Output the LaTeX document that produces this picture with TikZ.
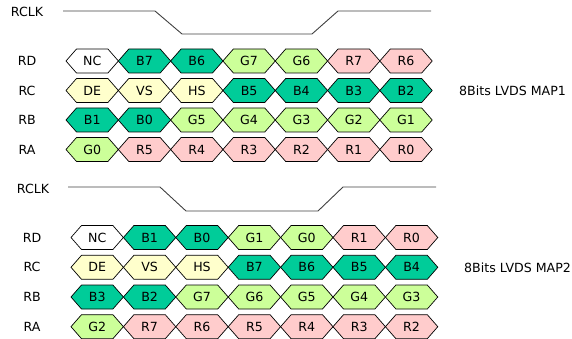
\documentclass[tikz,border=0pt]{standalone}
\usepackage{fontspec}
\setmainfont{DejaVu Sans}
\definecolor{cB}{HTML}{00CC99}
\definecolor{cG}{HTML}{CCFF99}
\definecolor{cR}{HTML}{FFCCCC}
\definecolor{cY}{HTML}{FFFFCC}
\definecolor{cW}{HTML}{FFFFFF}
\definecolor{wave}{HTML}{404040}
\newcommand\hexcell[5]{%
  \filldraw[cellline, fill=#3] (#1-26.2,#2) -- ++(10.5,-12) -- ++(31.4,0) -- ++(10.5,12) -- ++(-10.5,12) -- ++(-31.4,0) -- cycle;
  \node[celltext] (#5) at (#1,#2) {#4};}
\begin{document}
\begin{tikzpicture}[x=1pt,y=-1pt,
  cellline/.style={draw=black, line width=0.7pt, line join=miter},
  celltext/.style={font=\fontsize{12.6}{14}\selectfont, inner sep=0pt},
  lbl/.style={font=\fontsize{12.6}{14}\selectfont, inner sep=0pt},
  wavestyle/.style={draw=wave, line width=0.9pt}]
\useasboundingbox (0,0) rectangle (572,339);
% ---------- MAP 1 ----------
\node[lbl] (clk1) at (27,12) {RCLK};
\coordinate (w1a) at (63,11);
\coordinate (w1b) at (155,11);
\coordinate (w1c) at (182,34);
\coordinate (w1d) at (312,34);
\coordinate (w1e) at (338,11);
\coordinate (w1f) at (431,11);
\draw[wavestyle] (w1a) -- (w1b) -- (w1c) -- (w1d) -- (w1e) -- (w1f);
\node[lbl] (rd1) at (27,61) {RD};
\node[lbl] (rc1) at (27,90.5) {RC};
\node[lbl] (rb1) at (27,120) {RB};
\node[lbl] (ra1) at (27,149.5) {RA};
\node[lbl, anchor=west] (map1) at (459,90.5) {8Bits LVDS MAP1};
\foreach \t/\c [count=\i from 0] in {NC/cW,B7/cB,B6/cB,G7/cG,G6/cG,R7/cR,R6/cR}
  {\hexcell{92.2+52.3*\i}{61}{\c}{\t}{a-d-\i}}
\foreach \t/\c [count=\i from 0] in {DE/cY,VS/cY,HS/cY,B5/cB,B4/cB,B3/cB,B2/cB}
  {\hexcell{92.2+52.3*\i}{90.5}{\c}{\t}{a-c-\i}}
\foreach \t/\c [count=\i from 0] in {B1/cB,B0/cB,G5/cG,G4/cG,G3/cG,G2/cG,G1/cG}
  {\hexcell{92.2+52.3*\i}{120}{\c}{\t}{a-b-\i}}
\foreach \t/\c [count=\i from 0] in {G0/cG,R5/cR,R4/cR,R3/cR,R2/cR,R1/cR,R0/cR}
  {\hexcell{92.2+52.3*\i}{149.5}{\c}{\t}{a-a-\i}}
% ---------- MAP 2 ----------
\node[lbl] (clk2) at (33,189) {RCLK};
\coordinate (w2a) at (68,187);
\coordinate (w2b) at (160,187);
\coordinate (w2c) at (186,211);
\coordinate (w2d) at (318,211);
\coordinate (w2e) at (343,187);
\coordinate (w2f) at (436,187);
\draw[wavestyle] (w2a) -- (w2b) -- (w2c) -- (w2d) -- (w2e) -- (w2f);
\node[lbl] (rd2) at (32,237.5) {RD};
\node[lbl] (rc2) at (32,267.3) {RC};
\node[lbl] (rb2) at (32,297) {RB};
\node[lbl] (ra2) at (32,326.7) {RA};
\node[lbl, anchor=west] (map2) at (464,268) {8Bits LVDS MAP2};
\foreach \t/\c [count=\i from 0] in {NC/cW,B1/cB,B0/cB,G1/cG,G0/cG,R1/cR,R0/cR}
  {\hexcell{97.2+52.4*\i}{237.5}{\c}{\t}{b-d-\i}}
\foreach \t/\c [count=\i from 0] in {DE/cY,VS/cY,HS/cY,B7/cB,B6/cB,B5/cB,B4/cB}
  {\hexcell{97.2+52.4*\i}{267.3}{\c}{\t}{b-c-\i}}
\foreach \t/\c [count=\i from 0] in {B3/cB,B2/cB,G7/cG,G6/cG,G5/cG,G4/cG,G3/cG}
  {\hexcell{97.2+52.4*\i}{297}{\c}{\t}{b-b-\i}}
\foreach \t/\c [count=\i from 0] in {G2/cG,R7/cR,R6/cR,R5/cR,R4/cR,R3/cR,R2/cR}
  {\hexcell{97.2+52.4*\i}{326.7}{\c}{\t}{b-a-\i}}
\end{tikzpicture}
\end{document}
